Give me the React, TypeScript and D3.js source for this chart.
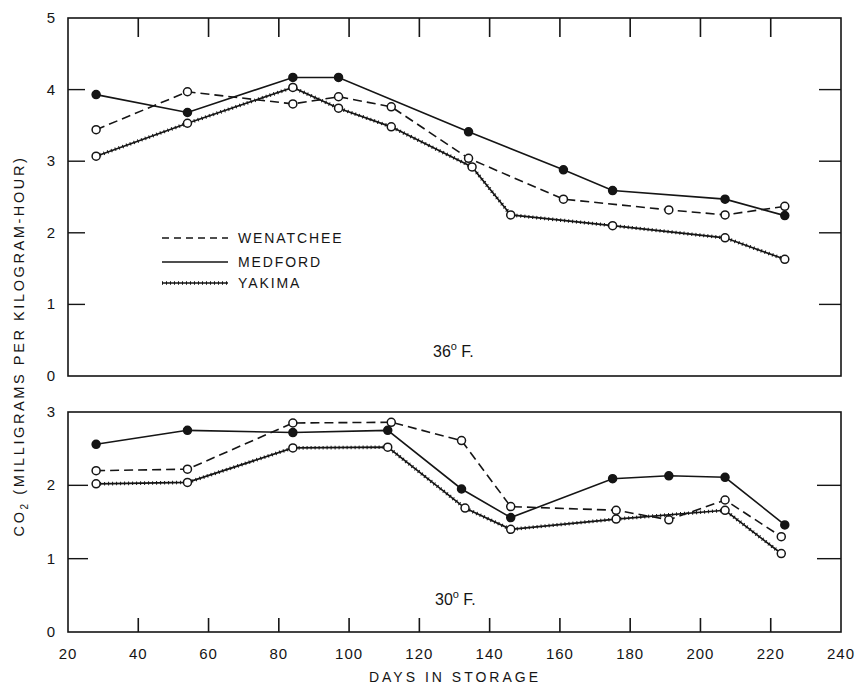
import React from "react";
import * as d3 from "d3";

const xTicks = [20, 40, 60, 80, 100, 120, 140, 160, 180, 200, 220, 240];
const topYTicks = [0, 1, 2, 3, 4, 5];
const botYTicks = [0, 1, 2, 3];

// 36°F panel
const medTopDays = [28, 54, 84, 97, 134, 161, 175, 207, 224];
const medTopVals = [3.93, 3.68, 4.17, 4.17, 3.41, 2.88, 2.59, 2.47, 2.24];
const wenTopDays = [28, 54, 84, 97, 112, 134, 161, 191, 207, 224];
const wenTopVals = [3.44, 3.97, 3.8, 3.9, 3.76, 3.04, 2.47, 2.32, 2.25, 2.37];
const yakTopDays = [28, 54, 84, 97, 112, 135, 146, 175, 207, 224];
const yakTopVals = [3.07, 3.53, 4.03, 3.74, 3.48, 2.92, 2.25, 2.1, 1.93, 1.63];

// 30°F panel
const medBotDays = [28, 54, 84, 111, 132, 146, 175, 191, 207, 224];
const medBotVals = [2.56, 2.75, 2.72, 2.75, 1.95, 1.56, 2.09, 2.13, 2.11, 1.46];
const wenBotDays = [28, 54, 84, 112, 132, 146, 176, 191, 207, 223];
const wenBotVals = [2.2, 2.22, 2.85, 2.86, 2.61, 1.71, 1.66, 1.53, 1.8, 1.3];
const yakBotDays = [28, 54, 84, 111, 133, 146, 176, 207, 223];
const yakBotVals = [2.02, 2.04, 2.51, 2.52, 1.69, 1.4, 1.54, 1.66, 1.07];

const legendNames = ["WENATCHEE", "MEDFORD", "YAKIMA"];

const INK = "#151515";
const FONT = "'Liberation Sans', Arial, sans-serif";

type S = "wen" | "med" | "yak";

function Series({ days, vals, x, y, kind }: { days: number[]; vals: number[]; x: any; y: any; kind: S }) {
  const pts: [number, number][] = days.map((d, i) => [d, vals[i]]);
  const line = d3.line<[number, number]>().x((p) => x(p[0])).y((p) => y(p[1]));
  const dpath = line(pts) || "";
  return (
    <g>
      {kind === "wen" && <path d={dpath} fill="none" stroke={INK} strokeWidth={1.6} strokeDasharray="9 5" />}
      {kind === "med" && <path d={dpath} fill="none" stroke={INK} strokeWidth={1.6} />}
      {kind === "yak" && (
        <g>
          <path d={dpath} fill="none" stroke={INK} strokeWidth={1.7} />
          <path d={dpath} fill="none" stroke={INK} strokeWidth={3.6} strokeDasharray="1 3" />
        </g>
      )}
      {pts.map((p, i) => (
        <circle key={i} cx={x(p[0])} cy={y(p[1])} r={4} fill={kind === "med" ? INK : "#fff"} stroke={INK} strokeWidth={1.5} />
      ))}
    </g>
  );
}

export default function App() {
  const x = d3.scaleLinear().domain([20, 240]).range([68, 841]);
  const yTop = d3.scaleLinear().domain([0, 5]).range([376, 18]);
  const yBot = d3.scaleLinear().domain([0, 3]).range([632, 412]);

  const inner = xTicks.filter((t) => t > 20 && t < 240);

  return (
    <svg width={858} height={687} style={{ position: "absolute", left: 0, top: 0, background: "#fff" }} fontFamily={FONT}>
      <rect width={858} height={687} fill="#fff" />
      {/* Top panel frame */}
      <rect x={x(20)} y={yTop(5)} width={x(240) - x(20)} height={yTop(0) - yTop(5)} fill="none" stroke={INK} strokeWidth={1.6} />
      {inner.map((t) => (
        <line key={"tt" + t} x1={x(t)} x2={x(t)} y1={yTop(5)} y2={yTop(5) + 19} stroke={INK} strokeWidth={1.6} />
      ))}
      {topYTicks.filter((t) => t > 0 && t < 5).map((t) => (
        <g key={"ty" + t}>
          <line x1={x(20)} x2={x(20) + 17} y1={yTop(t)} y2={yTop(t)} stroke={INK} strokeWidth={1.4} />
          <line x1={x(240) - 22} x2={x(240)} y1={yTop(t)} y2={yTop(t)} stroke={INK} strokeWidth={1.4} />
        </g>
      ))}
      {topYTicks.map((t) => (
        <text key={"tl" + t} x={55} y={yTop(t) + 5} textAnchor="end" fontSize={15} fill={INK}>{t}</text>
      ))}

      {/* Bottom panel frame */}
      <rect x={x(20)} y={yBot(3)} width={x(240) - x(20)} height={yBot(0) - yBot(3)} fill="none" stroke={INK} strokeWidth={1.6} />
      {inner.map((t) => (
        <line key={"bt" + t} x1={x(t)} x2={x(t)} y1={yBot(0)} y2={yBot(0) - 14} stroke={INK} strokeWidth={1.6} />
      ))}
      {botYTicks.filter((t) => t > 0 && t < 3).map((t) => (
        <g key={"by" + t}>
          <line x1={x(20)} x2={x(20) + 20} y1={yBot(t)} y2={yBot(t)} stroke={INK} strokeWidth={1.4} />
          <line x1={x(240) - 24} x2={x(240)} y1={yBot(t)} y2={yBot(t)} stroke={INK} strokeWidth={1.4} />
        </g>
      ))}
      {botYTicks.map((t) => (
        <text key={"bl" + t} x={55} y={yBot(t) + 5} textAnchor="end" fontSize={15} fill={INK}>{t}</text>
      ))}

      {/* X tick labels */}
      {xTicks.map((t) => (
        <text key={"xl" + t} x={x(t)} y={659} textAnchor="middle" fontSize={15} letterSpacing={1} fill={INK}>{t}</text>
      ))}
      <text x={455} y={682} textAnchor="middle" fontSize={14} letterSpacing={3} fill={INK}>DAYS IN STORAGE</text>

      {/* Y axis title */}
      <text transform="translate(24,346) rotate(-90)" textAnchor="middle" fontSize={14.5} letterSpacing={2.6} fill={INK}>
        CO<tspan fontSize={10} dy={4}>2</tspan><tspan dy={-4}> (MILLIGRAMS PER KILOGRAM-HOUR)</tspan>
      </text>

      {/* Series top */}
      <Series days={wenTopDays} vals={wenTopVals} x={x} y={yTop} kind="wen" />
      <Series days={yakTopDays} vals={yakTopVals} x={x} y={yTop} kind="yak" />
      <Series days={medTopDays} vals={medTopVals} x={x} y={yTop} kind="med" />

      {/* Series bottom */}
      <Series days={wenBotDays} vals={wenBotVals} x={x} y={yBot} kind="wen" />
      <Series days={yakBotDays} vals={yakBotVals} x={x} y={yBot} kind="yak" />
      <Series days={medBotDays} vals={medBotVals} x={x} y={yBot} kind="med" />

      {/* Panel labels */}
      <text x={433} y={357} fontSize={16} fill={INK}>36<tspan fontSize={11} dy={-7}>o</tspan><tspan dy={7}> F.</tspan></text>
      <text x={435} y={605} fontSize={16} fill={INK}>30<tspan fontSize={11} dy={-7}>o</tspan><tspan dy={7}> F.</tspan></text>

      {/* Legend */}
      {legendNames.map((n, i) => {
        const yy = [238, 262, 283][i];
        const x1 = 162, x2 = 228;
        return (
          <g key={n}>
            {i === 0 && <line x1={x1} x2={x2} y1={yy} y2={yy} stroke={INK} strokeWidth={1.6} strokeDasharray="7 5" />}
            {i === 1 && <line x1={x1} x2={x2} y1={yy} y2={yy} stroke={INK} strokeWidth={1.6} />}
            {i === 2 && (
              <g>
                <line x1={x1} x2={x2} y1={yy} y2={yy} stroke={INK} strokeWidth={1.7} />
                <line x1={x1} x2={x2} y1={yy} y2={yy} stroke={INK} strokeWidth={3.6} strokeDasharray="1 3" />
              </g>
            )}
            <text x={238} y={yy + 5} fontSize={14} letterSpacing={1.9} fill={INK}>{n}</text>
          </g>
        );
      })}
    </svg>
  );
}
